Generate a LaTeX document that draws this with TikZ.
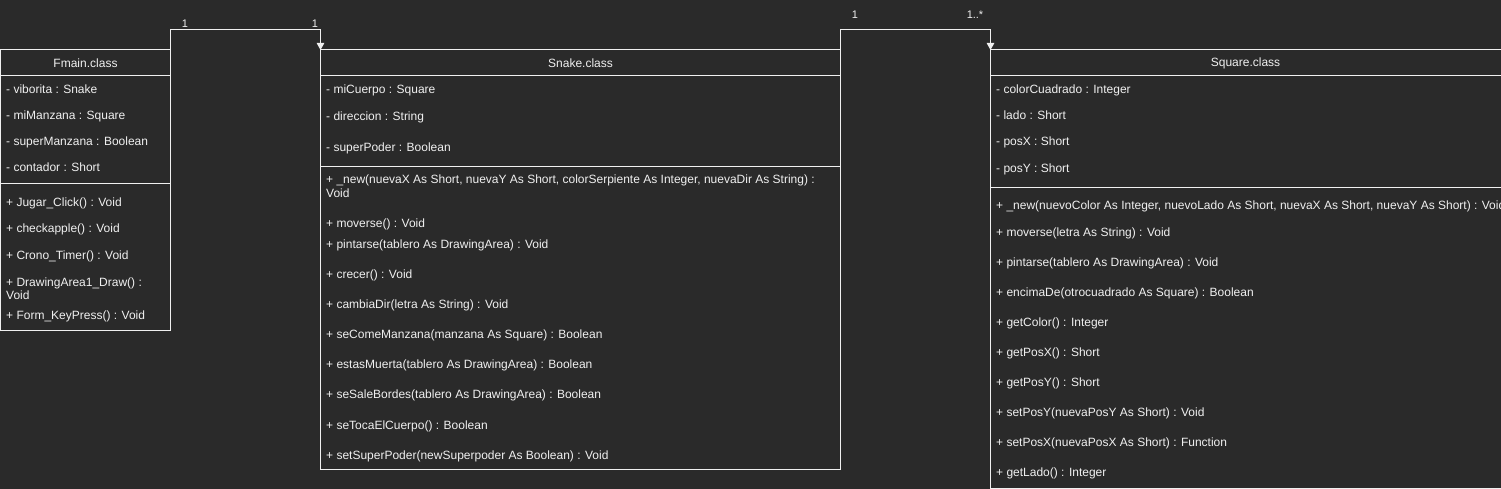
\documentclass[tikz,border=0pt]{standalone}
\usepackage{fontspec}
\setmainfont{Liberation Sans}
\usetikzlibrary{arrows.meta}
\definecolor{bgc}{HTML}{2A2A2A}
\definecolor{fgc}{HTML}{F0F0F0}
\begin{document}
\begin{tikzpicture}[x=1pt,y=-1pt,
  box/.style={draw=fgc,line width=1pt,inner sep=0pt,outer sep=0pt,anchor=north west},
  txt/.style={text=fgc,font=\fontsize{12}{13.5}\selectfont,inner sep=0pt,anchor=base west},
  head/.style={text=fgc,font=\fontsize{12}{13.5}\selectfont,inner sep=0pt},
  mult/.style={text=fgc,font=\fontsize{11}{13}\selectfont,inner sep=0pt},
  sep/.style={draw=fgc,line width=1pt},
  conn/.style={draw=fgc,line width=1pt,-{Triangle[length=7pt,width=7.5pt]}}]
\fill[bgc] (0,0) rectangle (1501,489);
\useasboundingbox (0,0) rectangle (1501,489);
\begin{scope}
\clip (0,0) rectangle (1501,489);
% boxes
\node[box,minimum width=170pt,minimum height=280pt] (fmain) at (0.5,50) {};
\node[box,minimum width=520pt,minimum height=419pt] (snake) at (320.5,50) {};
\node[box,minimum width=520pt,minimum height=438pt] (square) at (990.5,50) {};
% separators
\draw[sep] (fmain.north west |- 0,76) -- (fmain.north east |- 0,76);
\draw[sep] (fmain.north west |- 0,184) -- (fmain.north east |- 0,184);
\draw[sep] (snake.north west |- 0,76) -- (snake.north east |- 0,76);
\draw[sep] (snake.north west |- 0,166.5) -- (snake.north east |- 0,166.5);
\draw[sep] (square.north west |- 0,76) -- (square.north east |- 0,76);
\draw[sep] (square.north west |- 0,188) -- (square.north east |- 0,188);
% headers
\node[head] (fmainh) at (85.5,63) {Fmain.class};
\node[head] (snakeh) at (580.5,63) {Snake.class};
\node[head] (squareh) at (1245.5,63) {Square.class};
% Fmain
\node[txt] (f1) at (6,94) {- viborita : Snake};
\node[txt] (f2) at (6,120) {- miManzana : Square};
\node[txt] (f3) at (6,146) {- superManzana : Boolean};
\node[txt] (f4) at (6,171.5) {- contador : Short};
\node[txt] (f5) at (6,206.5) {+ Jugar\_Click() : Void};
\node[txt] (f6) at (6,232) {+ checkapple() : Void};
\node[txt] (f7) at (6,259) {+ Crono\_Timer() : Void};
\node[txt] (f8a) at (6,286) {+ DrawingArea1\_Draw() :};
\node[txt] (f8b) at (6,299.5) {Void};
\node[txt] (f9) at (6,319) {+ Form\_KeyPress() : Void};
% Snake
\node[txt] (s1) at (326,94) {- miCuerpo : Square};
\node[txt] (s2) at (326,121) {- direccion : String};
\node[txt] (s3) at (326,151.5) {- superPoder : Boolean};
\node[txt] (s4a) at (326,184) {+ \_new(nuevaX As Short, nuevaY As Short, colorSerpiente As Integer, nuevaDir As String) :};
\node[txt] (s4b) at (326,197.5) {Void};
\node[txt] (s5) at (326,227) {+ moverse() : Void};
\node[txt] (s6) at (326,248) {+ pintarse(tablero As DrawingArea) : Void};
\node[txt] (s7) at (326,278) {+ crecer() : Void};
\node[txt] (s8) at (326,308) {+ cambiaDir(letra As String) : Void};
\node[txt] (s9) at (326,338) {+ seComeManzana(manzana As Square) : Boolean};
\node[txt] (s10) at (326,368) {+ estasMuerta(tablero As DrawingArea) : Boolean};
\node[txt] (s11) at (326,398) {+ seSaleBordes(tablero As DrawingArea) : Boolean};
\node[txt] (s12) at (326,429) {+ seTocaElCuerpo() : Boolean};
\node[txt] (s13) at (326,459) {+ setSuperPoder(newSuperpoder As Boolean) : Void};
% Square
\node[txt] (q1) at (996,94) {- colorCuadrado : Integer};
\node[txt] (q2) at (996,120) {- lado : Short};
\node[txt] (q3) at (996,146) {- posX : Short};
\node[txt] (q4) at (996,172.5) {- posY : Short};
\node[txt] (q5) at (996,209.5) {+ \_new(nuevoColor As Integer, nuevoLado As Short, nuevaX As Short, nuevaY As Short) : Void};
\node[txt] (q6) at (996,236) {+ moverse(letra As String) : Void};
\node[txt] (q7) at (996,266.5) {+ pintarse(tablero As DrawingArea) : Void};
\node[txt] (q8) at (996,296.5) {+ encimaDe(otrocuadrado As Square) : Boolean};
\node[txt] (q9) at (996,326.5) {+ getColor() : Integer};
\node[txt] (q10) at (996,356.5) {+ getPosX() : Short};
\node[txt] (q11) at (996,386.5) {+ getPosY() : Short};
\node[txt] (q12) at (996,416.5) {+ setPosY(nuevaPosY As Short) : Void};
\node[txt] (q13) at (996,446.5) {+ setPosX(nuevaPosX As Short) : Function};
\node[txt] (q14) at (996,476.5) {+ getLado() : Integer};
% connectors
\draw[conn] (fmain.north east) -- ++(0,-20) -| (snake.north west);
\draw[conn] (snake.north east) -- ++(0,-20) -| (square.north west);
% multiplicities
\node[mult] (m1) at (185,24) {1};
\node[mult] (m2) at (315,24) {1};
\node[mult] (m3) at (855,15) {1};
\node[mult] (m4) at (975,15) {1..*};
\end{scope}
\end{tikzpicture}
\end{document}
